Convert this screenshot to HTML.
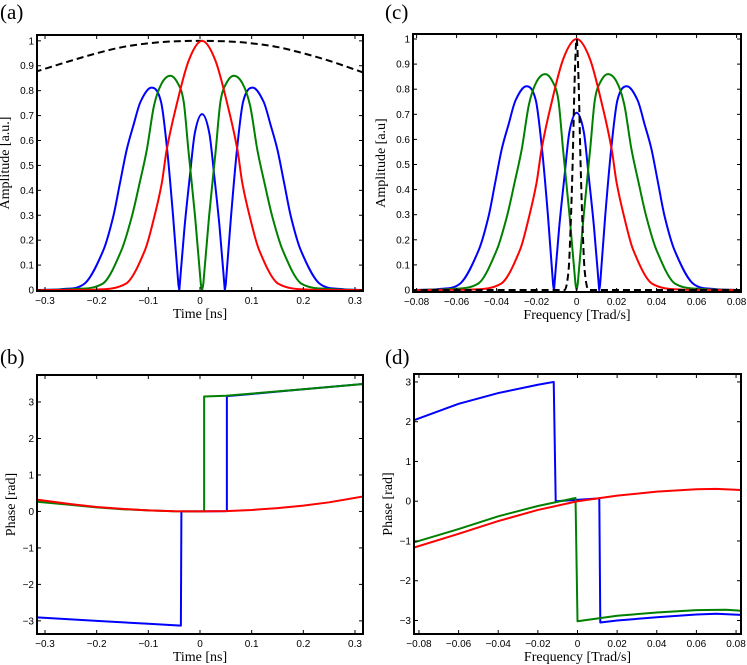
<!DOCTYPE html>
<html><head><meta charset="utf-8">
<style>
html,body{margin:0;padding:0;background:#fff;}
svg{display:block;}
.tk{font-family:"Liberation Sans",sans-serif;font-size:10px;fill:#000;}
.al{font-family:"Liberation Serif",serif;font-size:14px;fill:#000;}
.pl{font-family:"Liberation Serif",serif;font-size:21px;fill:#000;}
</style></head>
<body>
<svg id="fig" width="747" height="665" viewBox="0 0 747 665" xmlns="http://www.w3.org/2000/svg"></svg>
<script>
// ---- Panel (a): temporal amplitude ----
const aRedT=[-0.3155,-0.207,-0.142,-0.1065,-0.0884,-0.074,-0.0645,-0.048,-0.022,0.004,0.03,0.056,0.0725,0.082,0.0964,0.1145,0.15,0.215,0.3155];
const aRedV=[0,0.001,0.027,0.16,0.294,0.428,0.562,0.72,0.92,1,0.92,0.72,0.562,0.428,0.294,0.16,0.027,0.001,0];
const aGreenT=[-0.3155,-0.25,-0.187,-0.152,-0.132,-0.117,-0.103,-0.089,-0.074,-0.0575,-0.043,-0.0316,-0.0225,-0.0095,0.0015,0.004,0.0065,0.0175,0.0305,0.0396,0.051,0.0655,0.082,0.097,0.111,0.125,0.14,0.16,0.195,0.258,0.3155];
const aGreenV=[0,0.003,0.027,0.16,0.294,0.428,0.562,0.74,0.83,0.86,0.83,0.756,0.562,0.294,0.027,0,0.027,0.294,0.562,0.756,0.83,0.86,0.83,0.74,0.562,0.428,0.294,0.16,0.027,0.003,0];
const aBlueT=[-0.3155,-0.27,-0.2225,-0.187,-0.168,-0.155,-0.142,-0.129,-0.115,-0.094,-0.0755,-0.0635,-0.052,-0.042,-0.04,-0.03,-0.02,-0.01,0.004,0.018,0.028,0.038,0.048,0.05,0.06,0.0715,0.0835,0.102,0.123,0.137,0.15,0.163,0.176,0.195,0.2305,0.278,0.3155];
const aBlueV=[0,0.003,0.027,0.16,0.294,0.428,0.562,0.66,0.756,0.812,0.756,0.562,0.294,0.027,0,0.25,0.45,0.63,0.706,0.63,0.45,0.25,0,0.027,0.294,0.562,0.756,0.812,0.756,0.66,0.562,0.428,0.294,0.16,0.027,0.003,0];
const aDashT=[-0.32,-0.25,-0.2,-0.15,-0.1,-0.05,0.005,0.06,0.1,0.15,0.2,0.25,0.32];
const aDashV=[0.875,0.92,0.95,0.975,0.99,0.998,1.0,0.997,0.99,0.975,0.95,0.92,0.87];
// ---- Panel (c): spectral amplitude ----
const cRedF=[-0.0818,-0.054,-0.0374,-0.0283,-0.0237,-0.02,-0.0175,-0.0133,-0.0067,0,0.0067,0.0133,0.0175,0.02,0.0237,0.0283,0.0374,0.054,0.0818];
const cRedV=[0,0.001,0.027,0.16,0.294,0.428,0.562,0.72,0.92,1,0.92,0.72,0.562,0.428,0.294,0.16,0.027,0.001,0];
const cGreenF=[-0.0818,-0.065,-0.0489,-0.0399,-0.0348,-0.031,-0.0274,-0.0238,-0.02,-0.0157,-0.012,-0.0091,-0.0068,-0.0035,-0.0006,0,0.0006,0.0035,0.0068,0.0091,0.012,0.0157,0.02,0.0238,0.0274,0.031,0.0348,0.0399,0.0489,0.065,0.0818];
const cGreenV=[0,0.003,0.027,0.16,0.294,0.428,0.562,0.74,0.83,0.86,0.83,0.756,0.562,0.294,0.027,0,0.027,0.294,0.562,0.756,0.83,0.86,0.83,0.74,0.562,0.428,0.294,0.16,0.027,0.003,0];
const cBlueF=[-0.0818,-0.0701,-0.058,-0.0489,-0.044,-0.0407,-0.0374,-0.034,-0.0305,-0.0251,-0.0204,-0.0173,-0.0143,-0.0118,-0.0113,-0.0087,-0.0061,-0.0036,0,0.0036,0.0061,0.0087,0.0113,0.0118,0.0143,0.0173,0.0204,0.0251,0.0305,0.034,0.0374,0.0407,0.044,0.0489,0.058,0.0701,0.0818];
const cBlueV=[0,0.003,0.027,0.16,0.294,0.428,0.562,0.66,0.756,0.812,0.756,0.562,0.294,0.027,0,0.25,0.45,0.63,0.706,0.63,0.45,0.25,0,0.027,0.294,0.562,0.756,0.812,0.756,0.66,0.562,0.428,0.294,0.16,0.027,0.003,0];
const cDashF=[-0.0835,-0.006,-0.004,-0.003,-0.002,-0.001,0,0.001,0.002,0.003,0.004,0.006,0.0835];
const cDashV=[0,0,0.08,0.25,0.5,0.83,1,0.83,0.5,0.25,0.08,0,0];
// ---- Panel (b): temporal phase ----
const bRedT=[-0.32,-0.25,-0.2,-0.15,-0.1,-0.05,0,0.05,0.1,0.15,0.2,0.25,0.32];
const bRedV=[0.33,0.2,0.12,0.07,0.03,0.005,0,0.01,0.04,0.09,0.16,0.25,0.42];
const bGreenT=[-0.32,-0.25,-0.2,-0.15,-0.1,-0.05,0,0.008,0.008,0.05,0.1,0.15,0.2,0.25,0.32];
const bGreenV=[0.27,0.18,0.11,0.06,0.03,0.005,0,0.002,3.15,3.17,3.23,3.29,3.35,3.41,3.5];
const bBlueT=[-0.32,-0.2,-0.1,-0.037,-0.036,0,0.052,0.052,0.1,0.2,0.32];
const bBlueV=[-2.9,-3.0,-3.08,-3.13,0,0,0.01,3.16,3.22,3.35,3.5];
// ---- Panel (d): spectral phase ----
const dRedF=[-0.0835,-0.06,-0.04,-0.02,0,0.02,0.04,0.06,0.07,0.0835];
const dRedV=[-1.18,-0.82,-0.5,-0.22,0,0.14,0.24,0.3,0.31,0.28];
const dGreenF=[-0.0835,-0.06,-0.04,-0.02,-0.001,0,0.02,0.04,0.06,0.075,0.0835];
const dGreenV=[-1.05,-0.7,-0.38,-0.12,0.08,-3.02,-2.88,-2.8,-2.74,-2.73,-2.76];
const dBlueF=[-0.0835,-0.06,-0.04,-0.02,-0.012,-0.011,0.011,0.0115,0.02,0.04,0.06,0.07,0.0835];
const dBlueV=[2.02,2.45,2.72,2.93,3.0,0.0,0.07,-3.05,-3.0,-2.92,-2.85,-2.83,-2.86];
// tick values
const tTicks=[-0.3,-0.2,-0.1,0,0.1,0.2,0.3];
const fTicks=[-0.08,-0.06,-0.04,-0.02,0,0.02,0.04,0.06,0.08];
const ampTicks=[0,0.1,0.2,0.3,0.4,0.5,0.6,0.7,0.8,0.9,1];
const phTicks=[-3,-2,-1,0,1,2,3];

const NS='http://www.w3.org/2000/svg';
const fig=document.getElementById('fig');
function mk(tag,attrs,parent){const e=document.createElementNS(NS,tag);for(const k in attrs)e.setAttribute(k,attrs[k]);(parent||fig).appendChild(e);return e;}
function fmt(v){let s=(Math.abs(v)<1e-9)?'0':String(+v.toFixed(2));return s.replace('-','\u2212');}

// cardinal spline in data space, breaking at interior zero cusps
function smoothPath(xv,yv,sx,sy){
  const n=xv.length,m=new Array(n);
  const cusp=i=>i>0&&i<n-1&&yv[i]===0&&yv[i-1]>0&&yv[i+1]>0;
  for(let i=0;i<n;i++){
    if(i===0)m[i]=(yv[1]-yv[0])/(xv[1]-xv[0]);
    else if(i===n-1)m[i]=(yv[n-1]-yv[n-2])/(xv[n-1]-xv[n-2]);
    else if(cusp(i))m[i]=null;
    else m[i]=(yv[i+1]-yv[i-1])/(xv[i+1]-xv[i-1]);
  }
  let p='M'+sx(xv[0]).toFixed(2)+','+sy(yv[0]).toFixed(2);
  for(let i=0;i<n-1;i++){
    const h=(xv[i+1]-xv[i])/3,sl=(yv[i+1]-yv[i])/(xv[i+1]-xv[i]);
    let m0=m[i]===null?sl:m[i],m1=m[i+1]===null?sl:m[i+1];
    let y0c=yv[i]+m0*h,y1c=yv[i+1]-m1*h;
    if(y0c<0)y0c=0;if(y1c<0)y1c=0;
    p+='C'+sx(xv[i]+h).toFixed(2)+','+sy(y0c).toFixed(2)+' '+sx(xv[i+1]-h).toFixed(2)+','+sy(y1c).toFixed(2)+' '+sx(xv[i+1]).toFixed(2)+','+sy(yv[i+1]).toFixed(2);
  }
  return p;
}

function panel(o){
  const g=mk('g',{});
  
  
  const sx=v=>o.x0+(v-o.xd[0])/(o.xd[1]-o.xd[0])*(o.x1-o.x0);
  const sy=v=>o.y1-(v-o.yd[0])/(o.yd[1]-o.yd[0])*(o.y1-o.y0);
  const cid='clip-'+o.name;
  const cp=mk('clipPath',{id:cid},g);mk('rect',{x:o.x0,y:o.y0,width:o.x1-o.x0,height:o.y1-o.y0},cp);
  const plot=mk('g',{'clip-path':'url(#'+cid+')'},g);
  o.series.forEach(s=>{
    const d=s.smooth?smoothPath(s.x,s.y,sx,sy):'M'+s.x.map((x,i)=>sx(x).toFixed(2)+','+sy(s.y[i]).toFixed(2)).join('L');
    const p=mk('path',{d:d,fill:'none',stroke:s.color,'stroke-width':s.w||2,'stroke-linejoin':'round'},plot);
    if(s.dash)p.setAttribute('stroke-dasharray',s.dash);
    
    
  });
  const ax=mk('g',{},g);
  
  
  o.xt.forEach(v=>{const x=sx(v);
    mk('line',{x1:x,x2:x,y1:o.y1,y2:o.y1-4,stroke:'#000','stroke-width':1},ax);
    mk('line',{x1:x,x2:x,y1:o.y0,y2:o.y0+4,stroke:'#000','stroke-width':1},ax);
    const t=mk('text',{x:x,y:o.y1+13,'text-anchor':'middle',class:'tk'},ax);t.textContent=fmt(v);
    
    
  });
  o.yt.forEach(v=>{const y=sy(v);
    mk('line',{x1:o.x0,x2:o.x0+4,y1:y,y2:y,stroke:'#000','stroke-width':1},ax);
    mk('line',{x1:o.x1,x2:o.x1-4,y1:y,y2:y,stroke:'#000','stroke-width':1},ax);
    const t=mk('text',{x:o.x0-3,y:y+3.5,'text-anchor':'end',class:'tk'},ax);t.textContent=fmt(v);
    
    
  });
  const b=mk('rect',{x:o.x0,y:o.y0,width:o.x1-o.x0,height:o.y1-o.y0,fill:'none',stroke:'#000','stroke-width':2},ax);
  
  
  const xl=mk('text',{x:(o.x0+o.x1)/2,y:o.y1+27,'text-anchor':'middle',class:'al'},g);xl.textContent=o.xlabel;
  
  
  const yx=o.x0-o.ylOff,yc=(o.y0+o.y1)/2;
  const yl=mk('text',{x:yx,y:yc,'text-anchor':'middle',class:'al',transform:'rotate(-90 '+yx+' '+yc+')'},g);yl.textContent=o.ylabel;
  
  
  const pl=mk('text',{x:o.px,y:o.py,class:'pl'},g);pl.textContent=o.plabel;
  
  
}

panel({name:'panel-a',x0:37,x1:363,y0:35,y1:291,xd:[-0.3155,0.3155],yd:[-0.004,1.0234],xt:tTicks,yt:ampTicks,
  xlabel:'Time [ns]',ylabel:'Amplitude [a.u.]',ylOff:28,plabel:'(a)',px:0,py:19,
  series:[{name:'dashed-envelope',x:aDashT,y:aDashV,color:'#000',dash:'7,4',smooth:true},
          {name:'blue-amplitude',x:aBlueT,y:aBlueV,color:'#0000ff',smooth:true},
          {name:'green-amplitude',x:aGreenT,y:aGreenV,color:'#008000',smooth:true},
          {name:'red-amplitude',x:aRedT,y:aRedV,color:'#ff0000',smooth:true}]});
panel({name:'panel-c',x0:413,x1:741,y0:34,y1:292,xd:[-0.0818,0.0822],yd:[-0.008,1.02],xt:fTicks,yt:ampTicks,
  xlabel:'Frequency [Trad/s]',ylabel:'Amplitude [a.u]',ylOff:28,plabel:'(c)',px:385,py:19,
  series:[{name:'blue-spectrum',x:cBlueF,y:cBlueV,color:'#0000ff',smooth:true},
          {name:'green-spectrum',x:cGreenF,y:cGreenV,color:'#008000',smooth:true},
          {name:'red-spectrum',x:cRedF,y:cRedV,color:'#ff0000',smooth:true},
          {name:'dashed-spectrum',x:cDashF,y:cDashV,color:'#000',dash:'7,4',smooth:true}]});
panel({name:'panel-b',x0:37,x1:363,y0:375,y1:634,xd:[-0.3155,0.3155],yd:[-3.36,3.74],xt:tTicks,yt:phTicks,
  xlabel:'Time [ns]',ylabel:'Phase [rad]',ylOff:22,plabel:'(b)',px:0,py:364,
  series:[{name:'blue-phase',x:bBlueT,y:bBlueV,color:'#0000ff'},
          {name:'green-phase',x:bGreenT,y:bGreenV,color:'#008000'},
          {name:'red-phase',x:bRedT,y:bRedV,color:'#ff0000'}]});
panel({name:'panel-d',x0:414,x1:741,y0:374,y1:634,xd:[-0.0825,0.0825],yd:[-3.34,3.2],xt:fTicks,yt:phTicks,
  xlabel:'Frequency [Trad/s]',ylabel:'Phase [rad]',ylOff:22,plabel:'(d)',px:385,py:364,
  series:[{name:'blue-spectral-phase',x:dBlueF,y:dBlueV,color:'#0000ff'},
          {name:'green-spectral-phase',x:dGreenF,y:dGreenV,color:'#008000'},
          {name:'red-spectral-phase',x:dRedF,y:dRedV,color:'#ff0000'}]});
</script>
</body></html>
